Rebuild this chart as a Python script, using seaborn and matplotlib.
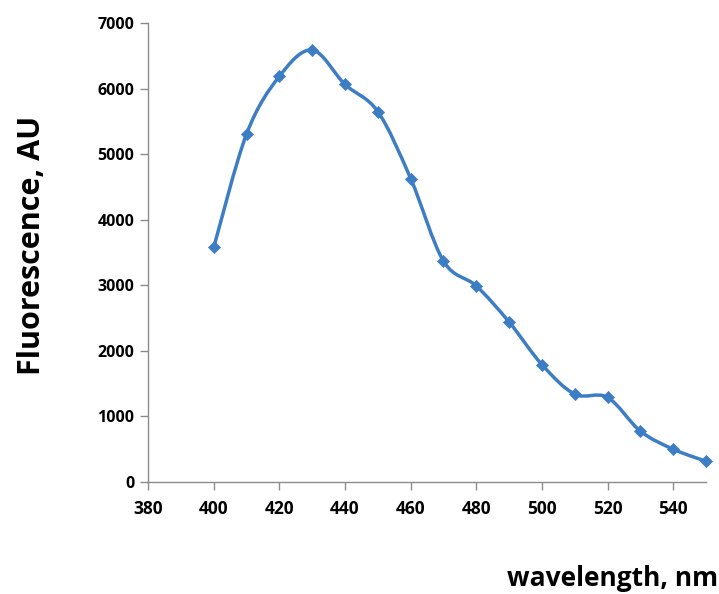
import numpy as np
import pandas as pd
import matplotlib
matplotlib.use("Agg")
import matplotlib.pyplot as plt
from matplotlib.path import Path
from matplotlib.patches import PathPatch
import seaborn as sns

wavelength = [400, 410, 420, 430, 440, 450, 460, 470, 480, 490, 500, 510, 520, 530, 540, 550]
fluorescence = [3580, 5310, 6190, 6590, 6065, 5650, 4630, 3370, 2990, 2440, 1790, 1340, 1290, 775, 500, 315]
x_ticks = [380, 400, 420, 440, 460, 480, 500, 520, 540]
y_ticks = [0, 1000, 2000, 3000, 4000, 5000, 6000, 7000]

df = pd.DataFrame({"wavelength": wavelength, "fluorescence": fluorescence})

sns.set_theme(style="white")
plt.rcParams["font.family"] = ["Open Sans", "DejaVu Sans"]

color = "#3C7DC4"
fig = plt.figure(figsize=(7.19, 5.94), dpi=100)
ax = fig.add_axes([0.206, 0.1886, 0.776, 0.7724])

# smoothed line (Excel-style Catmull-Rom Bezier through data points)
pts = df[["wavelength", "fluorescence"]].to_numpy(dtype=float)
n = len(pts)
verts = [pts[0]]
codes = [Path.MOVETO]
for i in range(n - 1):
    p0 = pts[i - 1] if i > 0 else pts[i]
    p1 = pts[i]
    p2 = pts[i + 1]
    p3 = pts[i + 2] if i + 2 < n else pts[i + 1]
    c1 = p1 + (p2 - p0) / 6.0
    c2 = p2 - (p3 - p1) / 6.0
    verts += [c1, c2, p2]
    codes += [Path.CURVE4] * 3
ax.add_patch(PathPatch(Path(verts, codes), facecolor="none", edgecolor=color,
                       linewidth=2.5, zorder=2, capstyle="round", joinstyle="round"))

sns.scatterplot(data=df, x="wavelength", y="fluorescence", marker="D", s=38,
                color=color, edgecolor=color, linewidth=0.5, ax=ax, zorder=3, clip_on=False)

ax.set_xlim(380, 550)
ax.set_ylim(0, 7000)
ax.set_xticks(x_ticks)
ax.set_yticks(y_ticks)
ax.set_xticklabels([str(v) for v in x_ticks], fontsize=12.5, fontweight="bold")
ax.set_yticklabels([str(v) for v in y_ticks], fontsize=11.5, fontweight="bold")
ax.set_xlabel("")
ax.set_ylabel("")

for s in ["top", "right"]:
    ax.spines[s].set_visible(False)
for s in ["left", "bottom"]:
    ax.spines[s].set_color("#8C8C8C")
    ax.spines[s].set_linewidth(1.0)
ax.tick_params(axis="both", which="major", direction="out", length=6, width=1.0,
               color="#8C8C8C", labelcolor="black", left=True, bottom=True)
ax.tick_params(axis="x", pad=7)
ax.tick_params(axis="y", pad=4)

fig.text(0.045, 0.587, "Fluorescence, AU", rotation=90, ha="center", va="center",
         fontsize=22, fontweight="bold", color="black")
fig.text(0.999, 0.004, "wavelength, nm", ha="right", va="bottom",
         fontsize=19, fontweight="bold", color="black")

fig.savefig("out.png", dpi=100, facecolor="white")
